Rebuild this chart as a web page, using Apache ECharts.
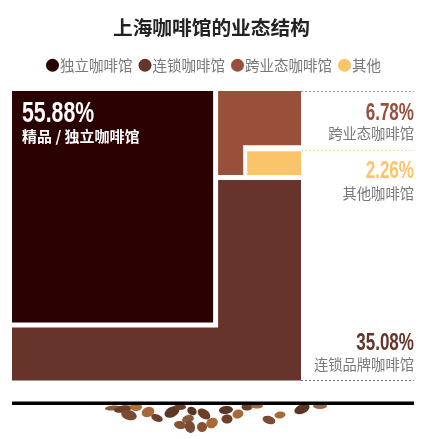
<!DOCTYPE html>
<html>
<head>
<meta charset="utf-8">
<style>
  html, body { margin: 0; padding: 0; background: #fff; }
  #chart { width: 433px; height: 439px; }
</style>
<script src="https://cdn.jsdelivr.net/npm/echarts@6/dist/echarts.min.js"></script>
</head>
<body>
<div id="chart"></div>
<script>
// 数据
const legendNames = ['独立咖啡馆', '连锁咖啡馆', '跨业态咖啡馆', '其他'];
const shares = [55.88, 35.08, 6.78, 2.26];
const captions = ['精品 / 独立咖啡馆', '连锁品牌咖啡馆', '跨业态咖啡馆', '其他咖啡馆'];
const colors = ['#2a0202', '#66342b', '#98503a', '#fcc469'];

const cjk = '"Noto Sans CJK SC"';
const num = '"Liberation Sans"';

// 嵌套方块的分割,全部由占比推出(坐标轴是 100 x 100,面积合计 10000)
const sideB = Math.sqrt((shares[2] + shares[3]) * 100);
const xB = 100 - sideB;
const yA = shares[0] * 100 / xB;
const otherW = 20;
const otherH = shares[3] * 100 / otherW;
const xN = 100 - otherW;
const yN = sideB - otherH;

function poly(api, pts, color) {
    return {
        type: 'polygon',
        shape: { points: pts.map(p => {
            const c = api.coord([p[0], p[1]]);
            return [c[0] + (p[2] || 0), c[1] + (p[3] || 0)];
        }) },
        style: { fill: color }
    };
}

const shapes = [
    [[0, 0], [xB, 0, -1, 0], [xB, yA, -1, 0], [0, yA]],
    [[0, yA, 0, 5], [xB, yA, 4, 5], [xB, sideB, 4, 2], [100, sideB, 0, 2], [100, 100], [0, 100]],
    [[xB, 0, 4, 0], [100, 0], [100, yN], [xN, yN], [xN, sideB, 0, -3], [xB, sideB, 4, -3]],
    [[xN, yN, 4, 6], [100, yN, 0, 6], [100, sideB, 0, -3], [xN, sideB, 4, -3]]
];

const series = legendNames.map((name, i) => ({
    type: 'custom',
    name: name,
    coordinateSystem: 'cartesian2d',
    itemStyle: { color: colors[i] },
    silent: true,
    clip: false,
    data: [[shares[i]]],
    encode: { x: 0 },
    renderItem: (params, api) => poly(api, shapes[i], colors[i])
}));

function text(x, y, str, font, size, weight, fill, align, scaleX) {
    return {
        type: 'text', x: x, y: y, z: 100, scaleX: scaleX || 1, silent: true,
        style: {
            text: str, fontFamily: font, fontSize: size, fontWeight: weight,
            fill: fill, align: align || 'right', verticalAlign: 'middle'
        }
    };
}

function dash(y, color) {
    return {
        type: 'line', silent: true,
        shape: { x1: 301, y1: y, x2: 414, y2: y },
        style: { stroke: color, lineWidth: 1, lineDash: [2, 2] }
    };
}

// 底部咖啡豆装饰
const beans = [
    [113, 408, 8, 2.5, 0.1, '#8a5a3c'], [123, 409, 9, 3.5, 0.2, '#6b3f28'], [129, 415, 8, 5, -0.3, '#7a4a32'],
    [136, 407, 6, 4, 0, '#b0703a'], [148, 412, 6.5, 5, 0.4, '#a8683a'], [157, 418, 6, 3.5, -0.4, '#6b3f28'],
    [172, 412, 8, 5, 0.5, '#5c3624'], [180, 407, 6, 3, 0, '#6b3f28'], [192, 411, 5, 4, -0.6, '#5c3624'],
    [204, 414, 7, 4.5, -0.6, '#6b3f28'], [188, 419, 6, 4, 0.3, '#8a5a3c'], [180, 425, 6, 4, -0.2, '#8a5030'],
    [190, 427, 5, 6, 0.3, '#7a4a32'], [202, 427, 5, 5, 0, '#8a5030'], [212, 423, 6, 5, 0.5, '#a8683a'],
    [227, 419, 5.5, 4.5, 0, '#6b3f28'], [238, 414, 5.5, 4.5, 0.3, '#a8683a'], [226, 410, 7, 4, 0.1, '#5c3624'],
    [247, 407, 5.5, 3.5, 0, '#6b3f28'], [257, 406, 6, 2.5, 0, '#a8683a'], [269, 420, 6.5, 4, -0.3, '#7a4a32'],
    [280, 415, 5.5, 3.5, 0.2, '#a8683a'], [302, 409, 8, 4.5, 0.4, '#5c3624'], [320, 406, 7, 3, 0, '#a06a48']
];
const beanShapes = beans.map(b => ({
    type: 'ellipse', silent: true, x: b[0], y: b[1], rotation: b[4],
    shape: { cx: 0, cy: 0, rx: b[2], ry: b[3] },
    style: { fill: b[5] }
}));

const chart = echarts.init(document.getElementById('chart'), null, { renderer: 'canvas' });

chart.setOption({
    animation: false,
    backgroundColor: '#fff',
    title: {
        text: '上海咖啡馆的业态结构',
        left: 108,
        top: 13,
        textStyle: { fontFamily: cjk, fontSize: 19.7, fontWeight: 'bold', color: '#222' }
    },
    legend: {
        data: legendNames,
        left: 41,
        top: 53,
        icon: 'circle',
        itemWidth: 13,
        itemHeight: 13,
        itemGap: 6,
        selectedMode: false,
        textStyle: { fontFamily: cjk, fontSize: 14.5, color: '#777', padding: [0, 0, 0, -4] }
    },
    grid: { left: 12, top: 91, width: 289, height: 289.6 },
    xAxis: { type: 'value', min: 0, max: 100, show: false },
    yAxis: { type: 'value', min: 0, max: 100, inverse: true, show: false },
    series: series,
    graphic: {
        z: 100,
        elements: [
            { type: 'group', silent: true, children: beanShapes },
            dash(91.5, '#999'), dash(150.5, '#fcd898'), dash(380.5, '#777'),
            { type: 'rect', silent: true, shape: { x: 12, y: 401.5, width: 402, height: 3.5 }, style: { fill: '#000' } },
            text(22, 114, shares[0].toFixed(2) + '%', num, 30, 'bold', '#fff', 'left', 0.71),
            text(22, 136, captions[0], cjk, 15, 'bold', '#fff', 'left'),
            text(414, 113, shares[2].toFixed(2) + '%', num, 24, 'bold', colors[2], 'right', 0.71),
            text(414, 134, captions[2], cjk, 14.3, 'normal', '#777'),
            text(414, 171, shares[3].toFixed(2) + '%', num, 24, 'bold', colors[3], 'right', 0.71),
            text(414, 194, captions[3], cjk, 14.3, 'normal', '#777'),
            text(414, 343, shares[1].toFixed(2) + '%', num, 24, 'bold', colors[1], 'right', 0.71),
            text(414, 365, captions[1], cjk, 14.3, 'normal', '#777')
        ]
    }
});
</script>
</body>
</html>
